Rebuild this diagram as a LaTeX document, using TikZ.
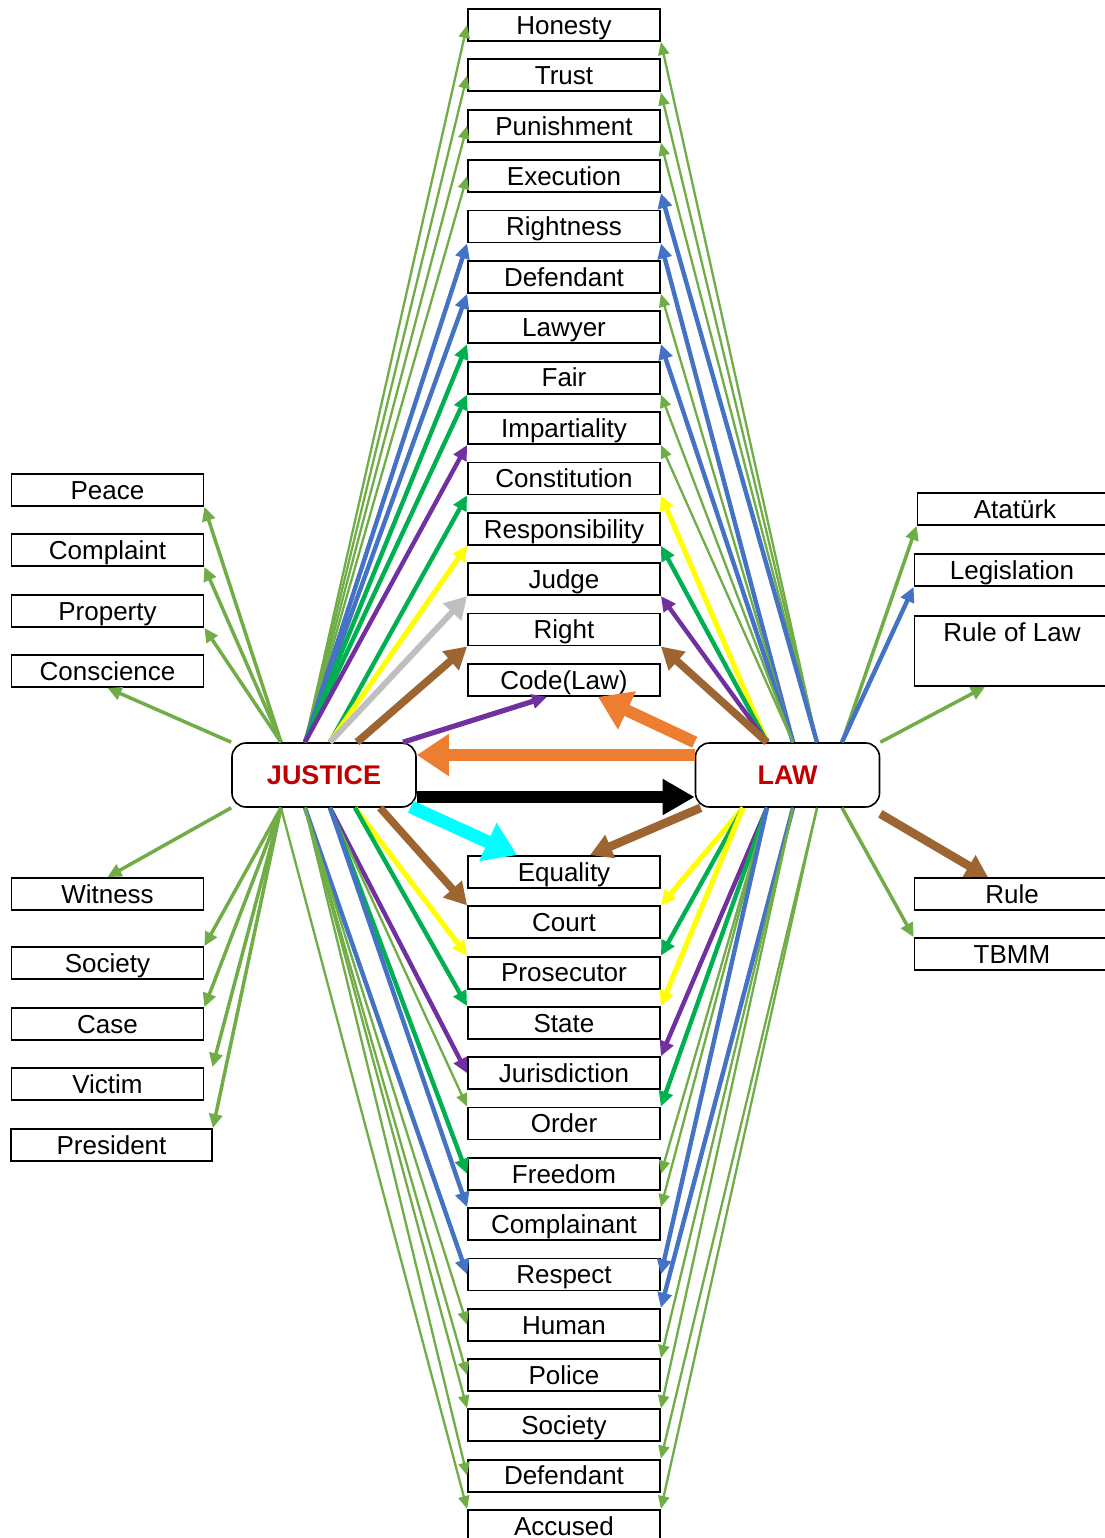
\documentclass[tikz,border=0pt]{standalone}
\usepackage{fontspec}
\setmainfont{Liberation Sans}
\usetikzlibrary{arrows.meta,calc}

\definecolor{lgreen}{HTML}{70AD47}
\definecolor{mblue}{HTML}{4472C4}
\definecolor{mgreen}{HTML}{00B050}
\definecolor{mpurple}{HTML}{7030A0}
\definecolor{myellow}{HTML}{FFFF00}
\definecolor{mgray}{HTML}{BFBFBF}
\definecolor{mbrown}{HTML}{9C6531}
\definecolor{morange}{HTML}{ED7D31}
\definecolor{mcyan}{HTML}{00FFFF}
\definecolor{lawred}{HTML}{C00000}

\begin{document}
\begin{tikzpicture}[x=0.5pt,y=-0.5pt,
    box/.style={draw,line width=0.9pt,minimum width=96pt,minimum height=16pt,
      inner sep=0pt,text height=9.3pt,text depth=0pt,font=\fontsize{13}{15}\selectfont},
    hub/.style={draw,line width=0.8pt,rounded corners=7pt,minimum width=92pt,
      minimum height=32pt,fill=white,text=lawred,text height=9.3pt,text depth=0pt,
      font=\fontsize{13.5}{15}\selectfont\bfseries},
    lk/.style={line width=1.15pt,-{Triangle[length=6.5pt,width=5.5pt]}},
    md/.style={line width=2.2pt,-{Triangle[length=7.5pt,width=7pt]}},
    hv/.style={line width=3.8pt,-{Triangle[length=11pt,width=12pt]}},
    fat/.style={line width=6pt,-{Triangle[length=16pt,width=20pt]}},
    lg/.style={lk,lgreen},
    lgm/.style={lgreen,line width=1.75pt,-{Triangle[length=7pt,width=6.5pt]}},
    bl/.style={md,mblue},
    gr/.style={md,mgreen},
    pu/.style={md,mpurple},
    ye/.style={md,myellow,line width=2.6pt},
    gy/.style={hv,mgray,line width=3pt},
    br/.style={hv,mbrown}]
  \useasboundingbox (0,0) rectangle (1104,1538);

  % middle column
  \foreach \nm/\txt [count=\i from 0] in {hon/Honesty,tru/Trust,pun/Punishment,
      exe/Execution,rgt/Rightness,dfa/Defendant,lwy/Lawyer,fai/Fair,imp/Impartiality,
      con/Constitution,rsp/Responsibility,jud/Judge,rig/Right,cod/Code(Law)}
    \node[box] (\nm) at (564,{25+50.38*\i}) {\txt};
  \foreach \nm/\txt [count=\i from 0] in {equ/Equality,cou/Court,pro/Prosecutor,
      sta/State,jur/Jurisdiction,ord/Order,fre/Freedom,cmp/Complainant,res/Respect,
      hum/Human,pol/Police,soc/Society,dfb/Defendant,acc/Accused}
    \node[box] (\nm) at (564,{872+50.3*\i}) {\txt};

  % left column
  \foreach \nm/\txt/\y in {peace/Peace/490,complaint/Complaint/550,property/Property/611,
      conscience/Conscience/671,witness/Witness/894,society/Society/963,
      case/Case/1024,victim/Victim/1084}
    \node[box] (\nm) at (107.5,\y) {\txt};
  \node[box,minimum width=100.5pt] (president) at (111.5,1145) {President};

  % right column
  \node[box,minimum width=97.5pt] (ataturk) at (1015,509) {Atatürk};
  \node[box,minimum width=97.5pt] (legis) at (1012,570) {Legislation};
  \node[box,minimum width=97.5pt,anchor=north,inner ysep=3pt,text height=9.8pt,
    text depth=19.2pt] (rol) at (1012,615) {Rule of Law};
  \node[box,minimum width=97.5pt] (rule) at (1012,894) {Rule};
  \node[box,minimum width=97.5pt] (tbmm) at (1012,954) {TBMM};

  % hubs
  \node[hub] (justice) at (324,775) {JUSTICE};
  \node[hub] (lawhub) at (787.5,775) {LAW};

  \coordinate (jt1) at ($(justice.north)+(-43,0)$);
  \coordinate (jt2) at ($(justice.north)+(-19,0)$);
  \coordinate (jt3) at ($(justice.north)+(6,0)$);
  \coordinate (jt4) at ($(justice.north)+(33,0)$);
  \coordinate (jt5) at ($(justice.north)+(79,0)$);
  \coordinate (jb1) at ($(justice.south)+(-43,0)$);
  \coordinate (jb2) at ($(justice.south)+(-19,0)$);
  \coordinate (jb3) at ($(justice.south)+(6,0)$);
  \coordinate (jb4) at ($(justice.south)+(31,0)$);
  \coordinate (jb5) at ($(justice.south)+(56,0)$);
  \coordinate (jb6) at ($(justice.south east)+(-6,-1)$);
  \coordinate (lt1) at ($(lawhub.north)+(-20.5,0)$);
  \coordinate (lt2) at ($(lawhub.north)+(5.5,0)$);
  \coordinate (lt3) at ($(lawhub.north)+(29.5,0)$);
  \coordinate (lt4) at ($(lawhub.north)+(54.5,0)$);
  \coordinate (lb0) at ($(lawhub.south west)+(6,0)$);
  \coordinate (lb1) at ($(lawhub.south)+(-44.5,0)$);
  \coordinate (lb2) at ($(lawhub.south)+(-20.5,0)$);
  \coordinate (lb3) at ($(lawhub.south)+(5.5,0)$);
  \coordinate (lb4) at ($(lawhub.south)+(29.5,0)$);
  \coordinate (lb5) at ($(lawhub.south)+(54.5,0)$);

  % JUSTICE to the middle column
  \foreach \a/\b/\c in {jt2/hon.west/lg,jt2/tru.west/lg,jt2/pun.west/lg,jt2/exe.west/lg,
      jt2/rgt.south west/bl,jt2/dfa.south west/bl,jt2/lwy.south west/gr,
      jt2/fai.south west/gr,jt2/imp.south west/pu,jt3/con.south west/gr,
      jt3/rsp.south west/ye,jt3/jud.south west/gy,jt4/rig.south west/br,
      jb5/cou.north west/br,jb4/pro.north west/ye,jb4/sta.north west/gr,
      jb3/jur.west/pu,jb3/ord.north west/lg,jb3/fre.west/gr,jb3/cmp.north west/bl,
      jb2/res.west/bl,jb2/hum.west/lg,jb2/pol.west/lg,jb2/soc.north west/lg,
      jb2/dfb.west/lg,jb1/acc.north west/lg}
    \draw[\c] (\a) -- (\b);

  % LAW to the middle column
  \foreach \a/\b/\c in {lt3/hon.south east/lg,lt3/tru.south east/lg,lt3/pun.south east/lg,
      lt3/exe.south east/bl,lt2/rgt.south east/bl,lt2/dfa.south east/lg,
      lt2/lwy.south east/bl,lt2/fai.south east/lg,lt2/imp.south east/lg,
      lt1/con.south east/ye,lt1/rsp.south east/gr,lt1/jud.south east/pu,
      lt1/rig.south east/br,lb1/cou.north east/ye,lb1/pro.north east/gr,
      lb1/sta.north east/ye,lb2/jur.north east/pu,lb2/ord.north east/gr,
      lb2/fre.east/lg,lb2/cmp.north east/lg,lb2/res.east/bl,lb3/hum.north east/bl,
      lb3/pol.north east/lg,lb3/soc.north east/lg,lb4/dfb.north east/lg,
      lb4/acc.north east/lg}
    \draw[\c] (\a) -- (\b);

  % outer columns
  \draw[lgm] (jt1) -- (peace.south east);
  \draw[lgm] (jt1) -- (complaint.south east);
  \draw[lgm] (jt1) -- (property.south east);
  \draw[lgm] (justice.north west) -- (conscience.south);
  \draw[lgm] (justice.south west) -- (witness.north);
  \draw[lgm] (jb1) -- (society.north east);
  \draw[lgm] (jb1) -- (case.north east);
  \draw[lgm] (jb1) -- ([xshift=4pt]victim.north east);
  \draw[lgm] (jb1) -- (president.north east);
  \draw[lgm] (lt4) -- (ataturk.south west);
  \draw[bl] (lt4) -- (legis.south west);
  \draw[lgm] (lawhub.north east) -- ([xshift=-13.5pt]rol.south);
  \draw[br,line width=4.3pt] ([yshift=-3pt]lawhub.south east) -- ([xshift=-12pt]rule.north);
  \draw[lgm] (lb5) -- (tbmm.north west);

  % between the hubs
  \draw[pu,line width=2.6pt] (jt5) -- ([xshift=-8.5pt]cod.south);
  \draw[fat,morange] (lawhub.north west) -- ([xshift=17pt]cod.south);
  \draw[fat,morange] ($(lawhub.west)+(0,-20)$) -- ($(justice.east)+(0,-20)$);
  \draw[fat,black,-{Triangle[length=16pt,width=17pt]}] ($(justice.east)+(0,22)$) -- ($(lawhub.west)+(0,22)$);
  \draw[fat,mcyan,line width=6.5pt] (jb6) -- ([xshift=-23.5pt]equ.north);
  \draw[br,line width=4.3pt] (lb0) -- ([xshift=13pt]equ.north);
\end{tikzpicture}
\end{document}
